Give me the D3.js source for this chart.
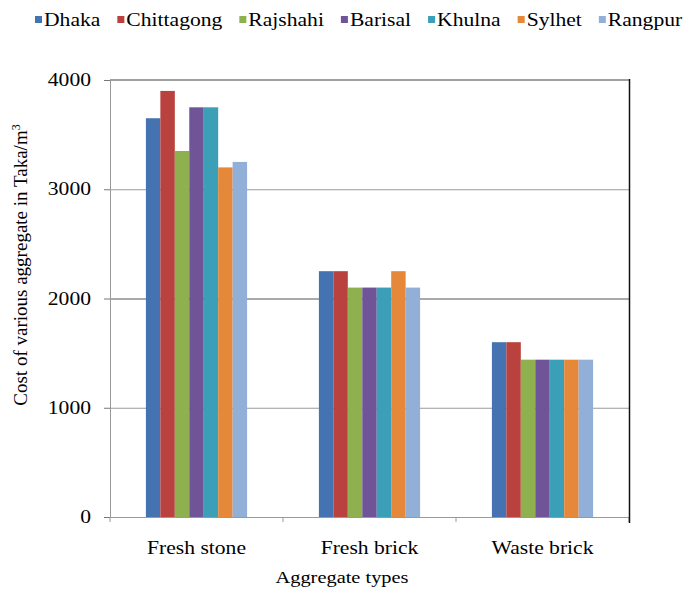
<!DOCTYPE html>
<html>
<head>
<meta charset="UTF-8">
<title>Cost of aggregate</title>
<script src="https://d3js.org/d3.v7.min.js"></script>
</head>
<body style="margin:0;background:#fff">
<svg id="chart" width="689" height="589"></svg>
<script>
// data
const categories = ["Fresh stone", "Fresh brick", "Waste brick"];
const cities = ["Dhaka", "Chittagong", "Rajshahi", "Barisal", "Khulna", "Sylhet", "Rangpur"];
const colors = ["#4572b0", "#b9413e", "#8fb04e", "#6f5597", "#3b9fb8", "#e5883a", "#92afd8"];
const freshStone = [3650, 3900, 3350, 3750, 3750, 3200, 3250];
const freshBrick = [2250, 2250, 2100, 2100, 2100, 2250, 2100];
const wasteBrick = [1600, 1600, 1440, 1440, 1440, 1440, 1440];
const yTicks = [0, 1000, 2000, 3000, 4000];

const series = [freshStone, freshBrick, wasteBrick];

const svg = d3.select("#chart");
const margin = { left: 110, right: 60, top: 80, bottom: 72 };
const W = 689, H = 589;
const stretch = 1.2; // the source picture is a bit wide
const serif = "Liberation Serif";

const x0 = d3.scaleBand().domain(categories).range([margin.left, W - margin.right]).padding(0);
const groupW = x0.bandwidth() * 0.585;
const x1 = d3.scaleBand().domain(cities).range([0, groupW]).padding(0);
const y = d3.scaleLinear().domain([0, 4000]).range([H - margin.bottom, margin.top]);

// stretched text helper
function label(sel, x, yy, str, size, anchor) {
  const g = sel.append("g").attr("transform", `translate(${x},${yy}) scale(${stretch},1)`);
  g.append("text").attr("text-anchor", anchor)
    .attr("font-family", serif).attr("font-size", size)
    .attr("fill", "#000")
    .text(str);
  return g;
}

// gridlines
svg.append("g").selectAll("line")
  .data(yTicks.filter(d => d > 0 && d < 4000))
  .join("line")
  .attr("x1", margin.left).attr("x2", W - margin.right)
  .attr("y1", d => y(d) + 0.5).attr("y2", d => y(d) + 0.5)
  .attr("stroke", d => d === 2000 ? "#555" : "#9a9a9a")
  .attr("stroke-width", 1);

// top border
svg.append("line")
  .attr("x1", margin.left).attr("x2", W - margin.right)
  .attr("y1", y(4000)).attr("y2", y(4000))
  .attr("stroke", "#a0a0a0").attr("stroke-width", 2);

// bars
const groups = svg.append("g").selectAll("g")
  .data(categories)
  .join("g")
  .attr("transform", d => `translate(${x0(d) + (x0.bandwidth() - groupW) / 2},0)`);

groups.selectAll("rect")
  .data((d, i) => cities.map((c, j) => ({ city: c, value: series[i][j], color: colors[j] })))
  .join("rect")
  .attr("x", d => x1(d.city))
  .attr("width", x1.bandwidth())
  .attr("y", d => y(d.value))
  .attr("height", d => y(0) - y(d.value))
  .attr("fill", d => d.color);

// y axis
const yAxis = svg.append("g").attr("transform", `translate(${margin.left},0)`)
  .call(d3.axisLeft(y).tickValues(yTicks).tickSize(6).tickFormat(""));
yAxis.select(".domain").attr("stroke", "#999");
yAxis.selectAll(".tick line").attr("stroke", "#777");
yTicks.forEach(t => label(svg, 91, y(t) + 6, String(t), 18, "end"));

// x axis
const xAxis = svg.append("g").attr("transform", `translate(0,${y(0)})`)
  .call(d3.axisBottom(x0).tickSize(0).tickFormat(""));
xAxis.select(".domain").attr("stroke", "#999");
xAxis.selectAll(".tick").remove();
const bounds = categories.map(c => x0(c)).concat([x0.range()[1]]);
svg.append("g").selectAll("line")
  .data(bounds)
  .join("line")
  .attr("x1", d => d).attr("x2", d => d)
  .attr("y1", y(0)).attr("y2", y(0) + 5)
  .attr("stroke", "#999");
categories.forEach(c => label(svg, x0(c) + x0.bandwidth() / 2, 554, c, 18, "middle"));

// right border
svg.append("line")
  .attr("x1", W - margin.right + 0.5).attr("x2", W - margin.right + 0.5)
  .attr("y1", y(4000) - 1).attr("y2", y(0) + 6)
  .attr("stroke", "#111").attr("stroke-width", 1.5);

// axis titles
label(svg, 342, 583, "Aggregate types", 17, "middle");
const yt = svg.append("text")
  .attr("transform", `translate(27,265) rotate(-90)`)
  .attr("text-anchor", "middle")
  .attr("font-family", serif)
  .attr("font-size", 19)
  .attr("fill", "#000");
yt.append("tspan").text("Cost of various aggregate in Taka/m");
yt.append("tspan").attr("dy", -7).attr("font-size", 12).text("3");

// legend
let lx = 35;
cities.forEach((c, i) => {
  svg.append("rect").attr("x", lx).attr("y", 16).attr("width", 7).attr("height", 7).attr("fill", colors[i]);
  const g = label(svg, lx + 9, 26, c, 18, "start");
  const w = g.select("text").node().getComputedTextLength() * stretch;
  lx += 9 + w + 17;
});
</script>
</body>
</html>
